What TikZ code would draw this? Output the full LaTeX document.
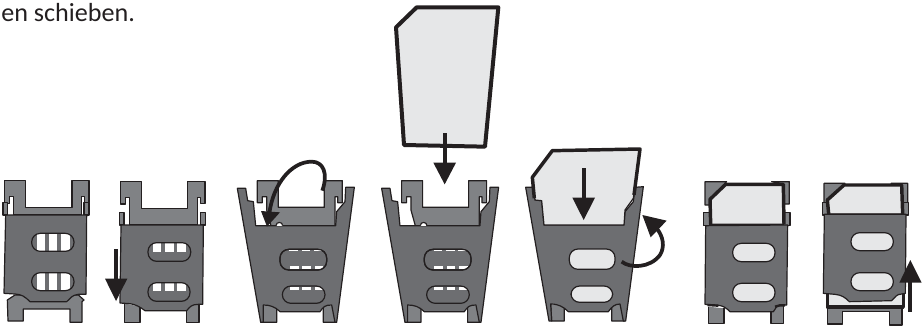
\documentclass[tikz,border=0pt]{standalone}
\usepackage{fontspec}
\setmainfont{Carlito}
\definecolor{holderdark}{HTML}{6D6E71}
\definecolor{holderlight}{HTML}{808285}
\definecolor{cardgray}{HTML}{E6E7E8}
\definecolor{inkblack}{HTML}{231F20}
\tikzset{
	darkpart/.style={draw=inkblack,fill=holderdark,line width=.9pt},
	lightpart/.style={draw=inkblack,fill=holderlight,line width=.9pt},
	cardpart/.style={draw=inkblack,fill=cardgray,line width=.9pt},
	cardedge/.style={draw=inkblack,line width=2.6pt},
	slotbox/.style={rounded corners=6.5pt,line width=.9pt,draw=inkblack},
	bigshaft/.style={draw=inkblack,line width=3pt},
	bighead/.style={fill=inkblack,draw=none},
}
% slot with three windows, x and y in zoomed units
\newcommand{\winslot}[8]{%
	\begin{scope}
		\clip[rounded corners=6.5pt] (#1,#2) rectangle (#3,#4);
		\fill[white] (#5,#6) rectangle +(#7,#8);
		\fill[white] (#5+37,#6) rectangle +(#7,#8);
		\fill[white] (#5+74,#6) rectangle +(#7,#8);
	\end{scope}
	\draw[slotbox] (#1,#2) rectangle (#3,#4);
}
% tilted holder, used twice
\newcommand{\tiltholder}{%
	\draw[lightpart] (97,62)--(160,62)--(160,142)--(298,142)--(298,62)--(352,62)--(352,128)--(338,128)--(338,110)--(330,110)--(330,197)--(138,197)--(125,150)--(125,110)--(112,110)--(112,128)--(97,128)--cycle;
	\draw[lightpart] (110,435)--(113,487)--(155,487)--(155,440);
	\draw[lightpart] (295,440)--(295,487)--(333,487)--(325,435);
	\draw[darkpart] (37,85)--(62,85)--(68,122)--(85,125)--(92,197)--(332,197)--(335,155)--(360,125)--(362,82)--(388,82)--(335,487)--(330,487)--(320,435) .. controls (300,435) and (295,440) .. (285,455)--(165,455) .. controls (150,440) and (135,435) .. (115,435)--(115,487)--(107,487)--cycle;
	\draw[fill=white,draw=inkblack,line width=.9pt] (153,197) .. controls (153,184) and (173,184) .. (173,197);
	\winslot{165}{268}{305}{330}{195}{318}{26}{8}
	\winslot{165}{268}{305}{330}{193}{268}{26}{4}
	\winslot{172}{378}{300}{430}{195}{382}{26}{8}
}
\begin{document}
\begin{tikzpicture}[x=.75pt,y=-.75pt,>=stealth,line join=round]
	\useasboundingbox (0,0) rectangle (924,326);
	\node[anchor=base west,inner sep=0pt,font=\fontsize{19.6pt}{22pt}\selectfont,text=inkblack] (caption) at (1,21.5) {en schieben.};
	% first holder
	\begin{scope}[shift={(0,160)},x=.25pt,y=-.25pt]
		\draw[lightpart] (14,62)--(77,62)--(77,143)--(216,143)--(216,62)--(267,62)--(267,127)--(254,127)--(254,110)--(244,110)--(244,165)--(40,165)--(40,110)--(28,110)--(28,130)--(14,130)--cycle;
		\draw[lightpart] (9,127)--(22,127)--(22,165)--(9,165)--cycle;
		\draw[lightpart] (252,127)--(267,127)--(267,165)--(252,165)--cycle;
		\draw[lightpart] (45,405)--(22,420)--(24,483)--(70,483)--(70,447)--(210,447)--(210,487)--(246,487)--(246,425)--(252,420)--(235,405)--cycle;
		\draw[darkpart] (17,165)--(260,165)--(258,403)--(235,403) .. controls (215,405) and (212,415) .. (200,425)--(90,425) .. controls (75,410) and (65,403) .. (45,402)--(12,400)--cycle;
		\winslot{95}{220}{222}{274}{110}{220}{25}{54}
		\winslot{95}{338}{222}{392}{110}{338}{25}{54}
	\end{scope}
	% second holder, pushed down
	\begin{scope}[shift={(0,160)},x=.25pt,y=-.25pt]
		\draw[lightpart] (362,65)--(425,65)--(425,145)--(563,145)--(563,65)--(615,65)--(615,130)--(602,130)--(602,112)--(592,112)--(592,195)--(388,195)--(388,112)--(377,112)--(377,132)--(362,132)--cycle;
		\draw[lightpart] (358,157)--(372,157)--(372,195)--(358,195)--cycle;
		\draw[lightpart] (602,157)--(616,157)--(616,195)--(602,195)--cycle;
		\draw[lightpart] (373,430)--(373,488)--(420,488)--(420,440);
		\draw[lightpart] (560,440)--(560,488)--(597,488)--(597,430);
		\draw[darkpart] (363,195)--(610,195)--(608,433)--(595,433) .. controls (575,433) and (570,440) .. (560,452)--(435,452) .. controls (420,440) and (405,433) .. (390,431)--(360,429)--cycle;
		\winslot{444}{248}{572}{304}{458}{250}{26}{26}
		\winslot{444}{368}{570}{424}{458}{370}{26}{22}
		\draw[bigshaft] (348,267)--(348,358);
		\fill[bighead] (315,356)--(382,356)--(348,423)--cycle;
	\end{scope}
	% third holder, opened, with curved arrow
	\begin{scope}[shift={(225,160)},x=.25pt,y=-.25pt]
		\tiltholder
		\draw[inkblack,line width=2.8pt] (292,92) .. controls (310,40) and (295,5) .. (260,5) .. controls (200,5) and (145,70) .. (133,160);
		\fill[bighead] (108,153)--(165,157)--(126,200)--cycle;
	\end{scope}
	% fourth holder and open card
	\begin{scope}[shift={(369.3,160)},x=.25pt,y=-.25pt]
		\tiltholder
	\end{scope}
	\begin{scope}[shift={(370,0)},x=.25pt,y=-.25pt]
		\draw[cardpart,line width=3pt] (78,82)--(140,22)--(385,22)--(345,440)--(102,435)--cycle;
		\draw[bigshaft] (224,400)--(224,490);
		\fill[bighead] (190,488)--(258,488)--(224,553)--cycle;
	\end{scope}
	% fifth holder with card
	\begin{scope}[shift={(510,130)},x=.25pt,y=-.25pt]
		\draw[lightpart] (122,522)--(125,573)--(163,573)--(163,530);
		\draw[lightpart] (305,525)--(305,573)--(343,573)--(332,522);
		\draw[darkpart] (47,172)--(70,172)--(75,210)--(95,212)--(102,285)--(342,285)--(345,245)--(370,215)--(375,172)--(400,170)--(347,573)--(340,573)--(330,522) .. controls (315,522) and (305,530) .. (295,545)--(175,545) .. controls (160,530) and (145,522) .. (122,522)--(125,573)--(117,573)--cycle;
		\draw[cardpart] (67,142)--(127,62)--(390,57)--(370,205)--(345,240)--(342,285)--(102,285)--(95,212)--(75,210)--cycle;
		\draw[cardedge] (73,205)--(67,142)--(127,62)--(390,57)--(372,195);
		\draw[slotbox,fill=cardgray] (178,357) rectangle (315,418);
		\draw[slotbox,fill=cardgray] (183,468) rectangle (308,517);
		\draw[bigshaft] (221,115)--(221,205);
		\fill[bighead] (187,203)--(255,203)--(221,270)--cycle;
		\draw[inkblack,line width=2.8pt] (335,395) .. controls (360,415) and (420,415) .. (450,375) .. controls (465,350) and (460,320) .. (440,295);
		\fill[bighead] (397,255)--(470,272)--(422,322)--cycle;
	\end{scope}
	% sixth holder, closed on card
	\begin{scope}[shift={(690,160)},x=.25pt,y=-.25pt]
		\draw[lightpart] (45,65)--(110,65)--(60,118)--(60,135)--(45,135)--cycle;
		\draw[lightpart] (245,65)--(298,65)--(298,132)--(280,132)--(280,73)--cycle;
		\draw[lightpart] (40,158)--(60,158)--(60,197)--(40,197)--cycle;
		\draw[lightpart] (280,158)--(300,158)--(300,197)--(280,197)--cycle;
		\draw[cardpart] (60,118)--(107,73)--(280,73)--(280,193)--(62,193)--cycle;
		\draw[cardedge] (62,193)--(60,118)--(107,73)--(280,73)--(282,193);
		\draw[lightpart] (55,440)--(55,490)--(102,490)--(102,445);
		\draw[lightpart] (243,445)--(243,490)--(280,490)--(280,435);
		\draw[darkpart] (47,197)--(293,195)--(290,435)--(270,435) .. controls (258,437) and (258,445) .. (250,455)--(120,455) .. controls (110,445) and (100,437) .. (85,436)--(45,433)--cycle;
		\draw[inkblack,line width=1.8pt] (52,435)--(85,437);
		\draw[inkblack,line width=1.8pt] (255,440)--(270,436)--(285,436);
		\draw[slotbox,fill=cardgray] (128,250) rectangle (255,305);
		\draw[slotbox,fill=cardgray] (128,370) rectangle (255,425);
	\end{scope}
	% seventh holder, pushed up
	\begin{scope}[shift={(690,160)},x=.25pt,y=-.25pt]
		\draw[lightpart] (402,70)--(465,70)--(412,120)--(412,135)--(402,135)--cycle;
		\draw[lightpart] (603,70)--(653,70)--(653,130)--(635,130)--(635,75)--cycle;
		\draw[lightpart] (397,127)--(414,127)--(414,165)--(397,165)--cycle;
		\draw[lightpart] (640,127)--(655,127)--(655,165)--(640,165)--cycle;
		\draw[cardpart] (412,120)--(462,75)--(635,75)--(638,162)--(418,162)--cycle;
		\draw[cardedge] (416,162)--(412,120)--(462,75)--(635,75)--(638,162);
		\draw[lightpart] (412,445)--(412,492)--(457,492)--(457,455)--(598,455)--(598,495)--(636,495)--(636,445)--cycle;
		\draw[cardpart] (412,395) rectangle (640,440);
		\draw[cardedge] (412,395)--(412,441)--(640,441)--(640,400);
		\draw[darkpart] (403,163)--(648,163)--(646,400)--(635,402) .. controls (620,402) and (615,412) .. (605,422)--(478,425) .. controls (465,412) and (455,405) .. (435,403)--(400,400)--cycle;
		\draw[slotbox,fill=cardgray] (483,218) rectangle (610,272);
		\draw[slotbox,fill=cardgray] (483,338) rectangle (610,392);
		\draw[bigshaft] (661,455)--(661,365);
		\fill[bighead] (628,368)--(695,368)--(661,300)--cycle;
	\end{scope}
\end{tikzpicture}
\end{document}
